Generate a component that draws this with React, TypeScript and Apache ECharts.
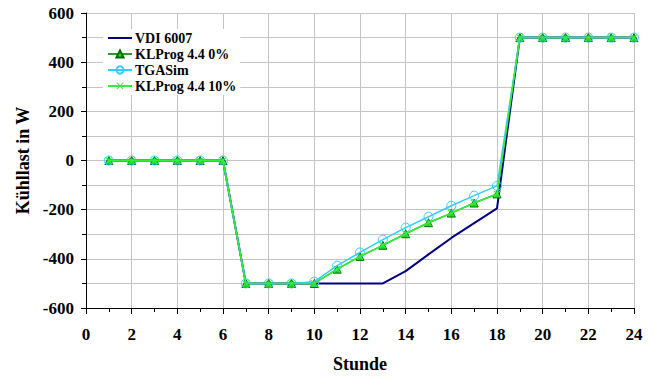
import React, { useEffect, useRef } from "react";
import * as echarts from "echarts";

const hours = [1, 2, 3, 4, 5, 6, 7, 8, 9, 10, 11, 12, 13, 14, 15, 16, 17, 18, 19, 20, 21, 22, 23, 24];
const vdi6007 = [0, 0, 0, 0, 0, 0, -500, -500, -500, -500, -500, -500, -500, -450, -382, -315, -255, -195, 500, 500, 500, 500, 500, 500];
const klprog0 = [0, 0, 0, 0, 0, 0, -500, -500, -500, -500, -442, -390, -345, -298, -253, -214, -173, -136, 500, 500, 500, 500, 500, 500];
const tgasim = [0, 0, 0, 0, 0, 0, -500, -500, -500, -493, -428, -374, -322, -273, -229, -184, -143, -103, 500, 500, 500, 500, 500, 500];
const klprog10 = [0, 0, 0, 0, 0, 0, -500, -500, -500, -500, -442, -390, -345, -298, -253, -214, -173, -136, 500, 500, 500, 500, 500, 500];

const seriesNames = ["VDI 6007", "KLProg 4.4 0%", "TGASim", "KLProg 4.4 10%"];

const FONT = "Liberation Serif";
const X_SYMBOL = "path://M0,1 L1,0 L5,4 L9,0 L10,1 L6,5 L10,9 L9,10 L5,6 L1,10 L0,9 L4,5 Z";
const LINE_ICON = "path://M0,4 L24,4 L24,6 L0,6 Z";

const pair = (ys: number[]) => hours.map((h, i) => [h, ys[i]]);

export default function App() {
  const ref = useRef<HTMLDivElement>(null);
  useEffect(() => {
    if (!ref.current) return;
    const chart = echarts.init(ref.current, null, { renderer: "svg" });
    const axisLabel = { fontFamily: FONT, fontWeight: "bold", fontSize: 17, color: "#000" };
    chart.setOption({
      animation: false,
      backgroundColor: "#fff",
      grid: { left: 86, right: 22, top: 13, bottom: 68, containLabel: false, outerBoundsMode: "none" },
      legend: {
        orient: "vertical",
        left: 103,
        top: 29,
        backgroundColor: "#fff",
        padding: [2, 4, 2, 4],
        itemWidth: 24,
        itemHeight: 9,
        itemGap: 2,
        textStyle: { fontFamily: FONT, fontWeight: "bold", fontSize: 14, color: "#000", padding: [0, 0, 0, -2] },
        data: [
          { name: seriesNames[0], icon: LINE_ICON, itemStyle: { color: "#000080" } },
          seriesNames[1],
          seriesNames[2],
          seriesNames[3],
        ],
      },
      xAxis: {
        type: "value",
        min: 0,
        max: 24,
        interval: 2,
        name: "Stunde",
        nameLocation: "middle",
        nameGap: 47,
        nameTextStyle: { fontFamily: FONT, fontWeight: "bold", fontSize: 18, color: "#000" },
        axisLine: { onZero: false, lineStyle: { color: "#000", width: 1 } },
        axisTick: { show: true, length: 6, lineStyle: { color: "#000" } },
        minorTick: { show: true, splitNumber: 2, length: 4, lineStyle: { color: "#000" } },
        axisLabel: { ...axisLabel, margin: 18 },
        splitLine: { show: true, lineStyle: { color: "#c4c4c4", width: 1 } },
      },
      yAxis: {
        type: "value",
        min: -600,
        max: 600,
        interval: 200,
        name: "Kühllast in W",
        nameLocation: "middle",
        nameGap: 50,
        nameTextStyle: { fontFamily: FONT, fontWeight: "bold", fontSize: 18, color: "#000" },
        axisLine: { show: true, lineStyle: { color: "#000", width: 1 } },
        axisTick: { show: true, length: 5, lineStyle: { color: "#000" } },
        minorTick: { show: true, splitNumber: 2, length: 4, lineStyle: { color: "#000" } },
        axisLabel: { ...axisLabel, margin: 12 },
        splitLine: { show: true, lineStyle: { color: "#c4c4c4", width: 1 } },
        minorSplitLine: { show: true, lineStyle: { color: "#c4c4c4", width: 1 } },
      },
      series: [
        {
          name: seriesNames[0],
          type: "line",
          data: pair(vdi6007),
          showSymbol: false,
          symbol: "none",
          lineStyle: { color: "#000080", width: 2 },
          itemStyle: { color: "#000080" },
          z: 2,
        },
        {
          name: seriesNames[1],
          type: "line",
          data: pair(klprog0),
          symbol: "triangle",
          symbolSize: 8,
          lineStyle: { color: "#339933", width: 1.5 },
          itemStyle: { color: "#33cc33", borderColor: "#007000", borderWidth: 1 },
          z: 3,
        },
        {
          name: seriesNames[2],
          type: "line",
          data: pair(tgasim),
          symbol: "circle",
          symbolSize: 9,
          lineStyle: { color: "#33ccff", width: 1.5 },
          itemStyle: { color: "rgba(255,255,255,0)", borderColor: "#33ccff", borderWidth: 1 },
          z: 4,
        },
        {
          name: seriesNames[3],
          type: "line",
          data: pair(klprog10),
          symbol: X_SYMBOL,
          symbolSize: 7,
          lineStyle: { color: "#33ee33", width: 1.5 },
          itemStyle: { color: "#33ee33" },
          z: 5,
        },
      ],
    });
    return () => chart.dispose();
  }, []);
  return <div ref={ref} style={{ width: 656, height: 376, position: "absolute", left: 0, top: 0 }} />;
}
